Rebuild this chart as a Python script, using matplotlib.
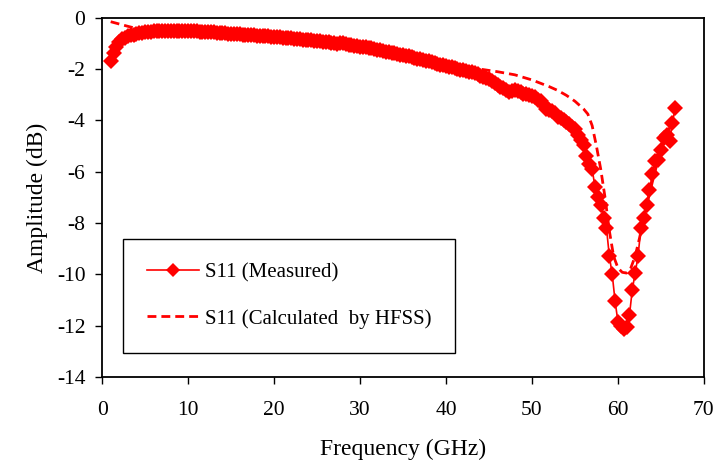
import numpy as np
import matplotlib
matplotlib.use("Agg")
import matplotlib.pyplot as plt

plt.rcParams['font.family'] = ['Liberation Serif', 'DejaVu Serif']
plt.rcParams['axes.unicode_minus'] = False

# measured S11, swept 1 GHz .. 66.67 GHz in 1/3 GHz steps (198 points)
freq_meas = np.linspace(1, 66.67, 198)
s11_meas = [
    # 1.0 - 4.67
    -1.70, -1.38, -1.12, -0.95, -0.84, -0.77, -0.72, -0.68, -0.65, -0.62, -0.60, -0.58,
    # 5.0 - 9.67
    -0.56, -0.55, -0.54, -0.53, -0.52, -0.52, -0.51, -0.51, -0.50, -0.50, -0.50, -0.50, -0.50, -0.51, -0.51,
    # 10.0 - 14.67
    -0.52, -0.52, -0.53, -0.53, -0.54, -0.55, -0.55, -0.56, -0.57, -0.57, -0.58, -0.59, -0.60, -0.60, -0.61,
    # 15.0 - 19.67
    -0.62, -0.63, -0.63, -0.64, -0.66, -0.66, -0.67, -0.68, -0.67, -0.69, -0.70, -0.71, -0.71, -0.72, -0.73,
    # 20.0 - 24.67
    -0.74, -0.75, -0.76, -0.78, -0.78, -0.80, -0.80, -0.82, -0.83, -0.84, -0.85, -0.86, -0.87, -0.88, -0.89,
    # 25.0 - 29.67
    -0.90, -0.92, -0.95, -0.93, -0.96, -0.98, -0.99, -1.00, -0.98, -0.97, -1.02, -1.04, -1.06, -1.08, -1.10,
    # 30.0 - 34.67
    -1.12, -1.13, -1.15, -1.17, -1.18, -1.22, -1.25, -1.27, -1.30, -1.32, -1.33, -1.36, -1.38, -1.40, -1.43,
    # 35.0 - 39.67
    -1.45, -1.48, -1.50, -1.53, -1.56, -1.60, -1.62, -1.65, -1.68, -1.70, -1.73, -1.76, -1.80, -1.82, -1.85,
    # 40.0 - 44.67
    -1.88, -1.90, -1.93, -1.97, -2.00, -2.02, -2.05, -2.08, -2.10, -2.12, -2.15, -2.20, -2.25, -2.30, -2.35,
    # 45.0 - 49.67
    -2.40, -2.45, -2.55, -2.60, -2.70, -2.75, -2.80, -2.88, -2.85, -2.82, -2.85, -2.90, -2.95, -2.95, -3.00,
    # 50.0 - 52.67
    -3.05, -3.10, -3.20, -3.25, -3.35, -3.55, -3.60, -3.65, -3.72,
    # 53.0 - 56.67
    -3.85, -3.90, -4.00, -4.05, -4.15, -4.25, -4.35, -4.55, -4.75, -4.95, -5.40, -5.70,
    # 57.0 - 66.67
    -5.90, -6.60, -6.97, -7.30, -7.80, -8.20, -9.30, -10.00, -11.05, -11.85,
    -12.00, -12.15, -12.05, -11.60, -10.60, -9.95, -9.30, -8.20, -7.80, -7.30,
    -6.70, -6.10, -5.60, -5.55, -5.15, -4.70, -4.55, -4.80, -4.10, -3.50,
]

# HFSS simulation
freq_hfss = [1, 3, 5, 10, 15, 20, 25, 30, 35, 40, 42, 44, 46, 48, 50, 52, 53, 54, 55, 56,
             56.5, 57, 57.5, 58, 58.5, 59, 59.5, 60, 60.5, 61, 61.5, 62, 62.5, 63, 63.5,
             64, 64.5, 65, 65.5, 66, 66.5]
s11_hfss = [-0.15, -0.33, -0.50, -0.55, -0.65, -0.78, -0.92, -1.12, -1.45, -1.85, -1.95,
            -2.00, -2.10, -2.22, -2.42, -2.68, -2.83, -3.02, -3.25, -3.55, -3.75, -4.20,
            -5.00, -5.90, -7.00, -8.30, -9.30, -9.75, -9.92, -9.95, -9.75, -9.30, -8.60,
            -7.85, -7.10, -6.40, -5.75, -5.10, -4.55, -4.30, -3.95]

fig = plt.figure(figsize=(7.19, 4.70), dpi=100)
ax = fig.add_axes([0.142, 0.198, 0.837, 0.764])

ax.plot(freq_hfss, s11_hfss, color='red', linestyle=(0, (3.2, 1.8)), linewidth=2.0,
        label='S11 (Calculated  by HFSS)', zorder=2)
ax.plot(freq_meas, s11_meas, color='red', linewidth=1.2, marker='D', markersize=8.5,
        markeredgewidth=0, label='S11 (Measured)', zorder=3)

ax.set_xlim(0, 70)
ax.set_ylim(-14, 0)
ax.set_xticks(range(0, 71, 10))
ax.set_yticks(range(-14, 1, 2))
ax.tick_params(direction='out', length=5, width=1, labelsize=15.5, colors='black')
ax.tick_params(axis='x', pad=12)
ax.tick_params(axis='y', pad=7)
for s in ax.spines.values():
    s.set_linewidth(1.3)
    s.set_color('black')

ax.set_xlabel('Frequency (GHz)', fontsize=17, labelpad=14)
ax.set_ylabel('Amplitude (dB)', fontsize=17, labelpad=6)

# legend order: measured first
h, l = ax.get_legend_handles_labels()
leg = ax.legend([h[1], h[0]], [l[1], l[0]], loc='lower left', bbox_to_anchor=(0.034, 0.068),
                fontsize=15, frameon=True, fancybox=False, edgecolor='black',
                framealpha=1, borderpad=1.15, handlelength=2.5, handletextpad=0.3,
                labelspacing=1.25, borderaxespad=0)
leg.get_frame().set_linewidth(1.0)
leg.legend_handles[0].set_markersize(7)

fig.savefig('out.png', dpi=100)
